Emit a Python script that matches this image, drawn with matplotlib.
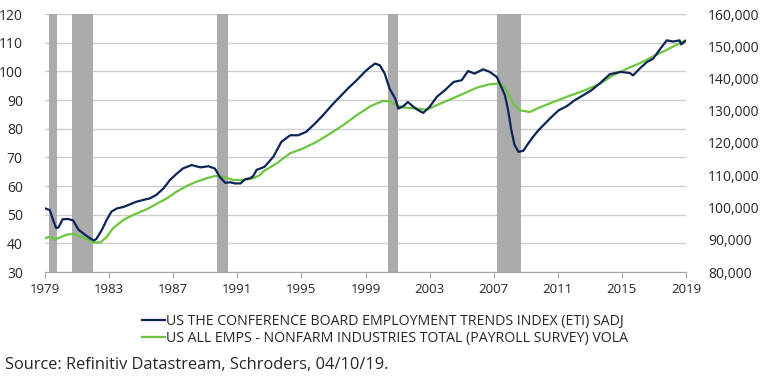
import matplotlib.pyplot as plt
from matplotlib.ticker import FuncFormatter

plt.rcParams['font.family'] = ['Open Sans', 'DejaVu Sans']

# Conference Board Employment Trends Index (left axis)
eti_years = [1979.0, 1979.3, 1979.5, 1979.7, 1979.85, 1980.1, 1980.45, 1980.75, 1981.1, 1981.5,
             1981.8, 1982.05, 1982.2, 1982.55, 1982.85, 1983.15, 1983.5, 1983.9, 1984.3, 1984.7,
             1985.1, 1985.55, 1985.95, 1986.4, 1986.8, 1987.2, 1987.6, 1988.15, 1988.7, 1989.2,
             1989.6, 1989.9, 1990.25, 1990.55, 1990.85, 1991.2, 1991.5, 1991.8, 1992.0, 1992.2,
             1992.7, 1993.25, 1993.75, 1994.3, 1994.8, 1995.3, 1995.85, 1996.35, 1996.9, 1997.4,
             1997.9, 1998.45, 1998.95, 1999.3, 1999.6, 1999.9, 2000.2, 2000.5, 2000.85, 2001.05,
             2001.35, 2001.65, 2001.95, 2002.3, 2002.6, 2003.0, 2003.45, 2003.95, 2004.5, 2005.0,
             2005.4, 2005.8, 2006.35, 2006.75, 2007.2, 2007.45, 2007.7, 2007.9, 2008.1, 2008.3,
             2008.55, 2008.85, 2009.15, 2009.45, 2009.8, 2010.1, 2010.5, 2011.05, 2011.55, 2012.05,
             2012.6, 2013.1, 2013.6, 2014.25, 2014.9, 2015.5, 2015.7, 2016.1, 2016.55, 2016.95,
             2017.4, 2017.8, 2018.2, 2018.6, 2018.7, 2018.95]
eti_values = [52.2, 51.6, 48.2, 45.3, 45.6, 48.4, 48.5, 48.0, 44.7, 43.0,
              41.8, 41.0, 41.5, 44.7, 48.2, 51.1, 52.2, 52.7, 53.6, 54.5,
              55.1, 55.7, 56.9, 59.2, 62.1, 64.2, 66.1, 67.3, 66.5, 66.9,
              66.1, 63.2, 61.1, 61.3, 60.9, 60.9, 62.4, 62.7, 63.5, 65.6,
              66.7, 70.2, 75.4, 77.7, 77.7, 78.9, 81.8, 84.7, 88.2, 91.1,
              94.0, 96.9, 99.8, 101.5, 102.7, 102.1, 99.2, 94.0, 90.5, 87.0,
              87.8, 89.3, 87.8, 86.4, 85.5, 87.6, 91.1, 93.4, 96.3, 96.9,
              100.1, 99.2, 100.7, 99.8, 98.0, 94.8, 91.7, 86.4, 79.5, 74.3,
              71.9, 72.3, 74.8, 77.1, 79.5, 81.2, 83.5, 86.4, 87.8, 89.9,
              91.7, 93.4, 95.7, 99.0, 99.8, 99.4, 98.6, 100.9, 103.2, 104.4,
              107.9, 110.8, 110.4, 110.8, 109.4, 110.5]

# Nonfarm payrolls, thousands (right axis)
nfp_years = [1979.0, 1979.3, 1979.6, 1979.9, 1980.35, 1980.75, 1981.2, 1981.6, 1982.0, 1982.45,
             1982.85, 1983.25, 1983.9, 1984.5, 1985.35, 1985.95, 1986.6, 1987.2, 1987.85, 1988.45,
             1989.1, 1989.6, 1990.1, 1990.75, 1991.4, 1992.0, 1992.4, 1992.6, 1993.45, 1994.3,
             1995.1, 1995.95, 1996.8, 1997.6, 1998.45, 1999.3, 2000.1, 2000.5, 2000.95, 2001.35,
             2002.2, 2002.8, 2003.45, 2004.3, 2005.1, 2005.95, 2006.75, 2007.4, 2007.8, 2008.2,
             2008.65, 2009.25, 2009.7, 2010.5, 2011.55, 2012.6, 2013.65, 2014.45, 2015.3, 2016.15,
             2016.95, 2017.8, 2018.95]
nfp_values = [90490, 90930, 89960, 90670, 91560, 91820, 91020, 90220, 89160, 89160,
              90840, 93600, 96180, 97690, 99470, 101070, 102840, 104890, 106670, 108000,
              109070, 109780, 109510, 108530, 108530, 109070, 110040, 111110, 113690, 116800,
              118310, 120360, 122930, 125510, 128620, 131380, 133070, 132890, 131730, 131020,
              130670, 130310, 131730, 133510, 135290, 137160, 138220, 138490, 136360, 132270,
              130130, 129600, 130670, 132270, 134310, 136180, 138400, 140980, 143020, 144800,
              146850, 148890, 151820]

# shaded recession periods
recessions = [(1979.25, 1979.75), (1980.7, 1982.0), (1989.75, 1990.4),
              (2000.4, 2001.0), (2007.2, 2008.7)]

xticks = list(range(1979, 2020, 4))
left_ticks = list(range(30, 121, 10))
right_ticks = list(range(80000, 160001, 10000))

fig = plt.figure(figsize=(7.7, 3.8), dpi=100)
ax = fig.add_axes([45 / 770, 1 - 272 / 380, 641 / 770, 258 / 380])
ax2 = ax.twinx()  # sits on top of ax

txt = '#262626'
# back axes: gridlines + recession shading
ax.set_ylim(30, 120)
ax.set_yticks(left_ticks)
ax.grid(axis='y', color='#cfcfcf', lw=1.0)
ax.set_axisbelow(True)
for a, b in recessions:
    ax.axvspan(a, b, color='#ababab', lw=0, zorder=1)

# front axes: green on its own scale, blue on the left scale
ax2.plot(nfp_years, nfp_values, color='#6cc63f', lw=1.6, zorder=3,
         label='US ALL EMPS - NONFARM INDUSTRIES TOTAL (PAYROLL SURVEY) VOLA')
ax2.plot(eti_years, eti_values, color='#0c2457', lw=1.6, zorder=4,
         transform=ax.transData,
         label='US THE CONFERENCE BOARD EMPLOYMENT TRENDS INDEX (ETI) SADJ')

ax.set_xlim(1979, 2019)
ax2.set_ylim(80000, 160000)
ax2.set_yticks(right_ticks)
ax2.yaxis.set_major_formatter(FuncFormatter(lambda v, p: f'{int(v):,}'))
ax.set_xticks(xticks)
ax.set_xticklabels([str(y) for y in xticks])

for a in (ax, ax2):
    for s in ('top', 'left', 'right', 'bottom'):
        a.spines[s].set_visible(False)
ax.spines['bottom'].set_visible(True)
ax.spines['bottom'].set_color('#a6a6a6')
ax.tick_params(axis='y', length=0, pad=16, labelsize=10, labelcolor=txt)
ax2.tick_params(axis='y', length=0, pad=16, labelsize=10, labelcolor=txt)
ax.tick_params(axis='x', length=4, color='#a6a6a6', pad=4, labelsize=9.5, labelcolor=txt)

h, l = ax2.get_legend_handles_labels()
fig.legend(h[::-1], l[::-1], loc='center', bbox_to_anchor=(0.5, 1 - 330 / 380),
           frameon=False, fontsize=10.2, handlelength=1.6, handletextpad=0.1,
           labelspacing=0.2, labelcolor=txt)

fig.text(5 / 770, 1 - 365 / 380, 'Source: Refinitiv Datastream, Schroders, 04/10/19.',
         fontsize=11.8, color=txt, va='center', ha='left')

fig.savefig('out.png', dpi=100)
